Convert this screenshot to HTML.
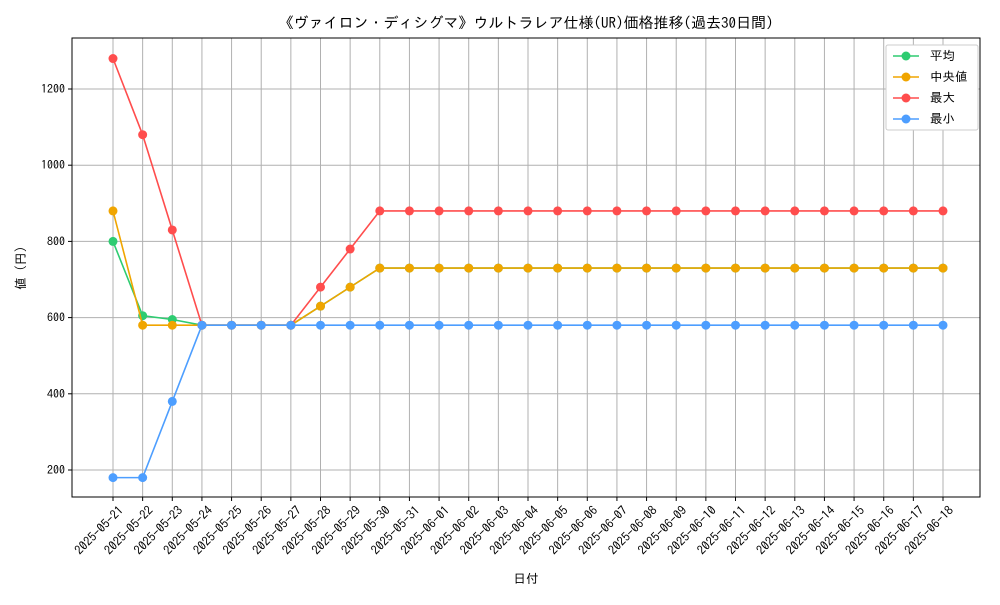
<!DOCTYPE html>
<html><head><meta charset="utf-8">
<style>
html,body{margin:0;padding:0;background:#fff;}
svg text{font-family:"IPAGothic","Noto Sans CJK JP","Liberation Sans",sans-serif;fill:#000;}
</style></head>
<body>
<svg id="chart" width="1000" height="600" xmlns="http://www.w3.org/2000/svg">
<rect width="1000" height="600" fill="#fff"/>
<text x="526" y="28" text-anchor="middle" font-size="15">《ヴァイロン・ディシグマ》ウルトラレア仕様(UR)価格推移(過去30日間)</text>
<g id="grid"></g>
<g id="axes"></g>
<g id="series"></g>
<rect x="72" y="38" width="908" height="459" fill="none" stroke="#000" stroke-width="1"/>
<text x="526" y="583" text-anchor="middle" font-size="12.5">日付</text>
<text transform="translate(25,268) rotate(-90)" text-anchor="middle" font-size="12.5">値 (円)</text>
<g id="legend"></g>
</svg>
<script>
const dates=["2025-05-21","2025-05-22","2025-05-23","2025-05-24","2025-05-25","2025-05-26","2025-05-27","2025-05-28","2025-05-29","2025-05-30","2025-05-31","2025-06-01","2025-06-02","2025-06-03","2025-06-04","2025-06-05","2025-06-06","2025-06-07","2025-06-08","2025-06-09","2025-06-10","2025-06-11","2025-06-12","2025-06-13","2025-06-14","2025-06-15","2025-06-16","2025-06-17","2025-06-18"];
const avgValues=[800,605,595,580,580,580,580,630,680,730,730,730,730,730,730,730,730,730,730,730,730,730,730,730,730,730,730,730,730];
const medianValues=[880,580,580,580,580,580,580,630,680,730,730,730,730,730,730,730,730,730,730,730,730,730,730,730,730,730,730,730,730];
const maxValues=[1280,1080,830,580,580,580,580,680,780,880,880,880,880,880,880,880,880,880,880,880,880,880,880,880,880,880,880,880,880];
const minValues=[180,180,380,580,580,580,580,580,580,580,580,580,580,580,580,580,580,580,580,580,580,580,580,580,580,580,580,580,580];
const yTicks=[200,400,600,800,1000,1200];
const seriesNames=["平均","中央値","最大","最小"];
const NS="http://www.w3.org/2000/svg";
function xs(i){return 113+i*(830/(dates.length-1));}
function ys(v){return 470-(v-200)*0.381;}
function mk(tag,attrs,parent){const e=document.createElementNS(NS,tag);for(const k in attrs)e.setAttribute(k,attrs[k]);parent.appendChild(e);return e;}
const grid=document.getElementById('grid'),axes=document.getElementById('axes'),ser=document.getElementById('series'),leg=document.getElementById('legend');
dates.forEach((d,i)=>{const x=xs(i);
 const g=mk('line',{x1:x,x2:x,y1:38,y2:497,stroke:'#b0b0b0','stroke-width':1},grid);
 
 const t=mk('line',{x1:x,x2:x,y1:497,y2:501,stroke:'#000'},axes);
 
 const l=mk('text',{transform:`translate(${x+5},${505}) rotate(-45)`,'text-anchor':'end','font-size':12.5,dy:'0.7em'},axes);
 l.textContent=d;
});
yTicks.forEach(v=>{const y=ys(v);
 const g=mk('line',{x1:72,x2:980,y1:y,y2:y,stroke:'#b0b0b0','stroke-width':1},grid);
 
 const t=mk('line',{x1:68,x2:72,y1:y,y2:y,stroke:'#000'},axes);
 
 const l=mk('text',{x:65,y:y+4,'text-anchor':'end','font-size':12},axes);
 l.textContent=v;
});
const all=[[avgValues,'#2ecc71','avg'],[medianValues,'#f0a500','median'],[maxValues,'#ff4d4d','max'],[minValues,'#4d9eff','min']];
all.forEach(([vals,c,n])=>{
 const p=mk('polyline',{points:vals.map((v,i)=>xs(i)+','+ys(v)).join(' '),fill:'none',stroke:c,'stroke-width':1.6},ser);
 
 vals.forEach((v,i)=>{const m=mk('circle',{cx:xs(i),cy:ys(v),r:4.5,fill:c},ser);
  });
});
const lb=mk('rect',{x:886,y:45,width:92,height:85,fill:'#fff',stroke:'#ccc',rx:2},leg);

all.forEach(([vals,c,n],k)=>{const y=56+k*21;
 const g=mk('g',{},leg);
 mk('line',{x1:893,x2:919,y1:y,y2:y,stroke:c,'stroke-width':1.6},g);
 mk('circle',{cx:906,cy:y,r:4.5,fill:c},g);
 const t=mk('text',{x:930,y:y+4,'font-size':12.5},g);t.textContent=seriesNames[k];
});
</script>
</body></html>
